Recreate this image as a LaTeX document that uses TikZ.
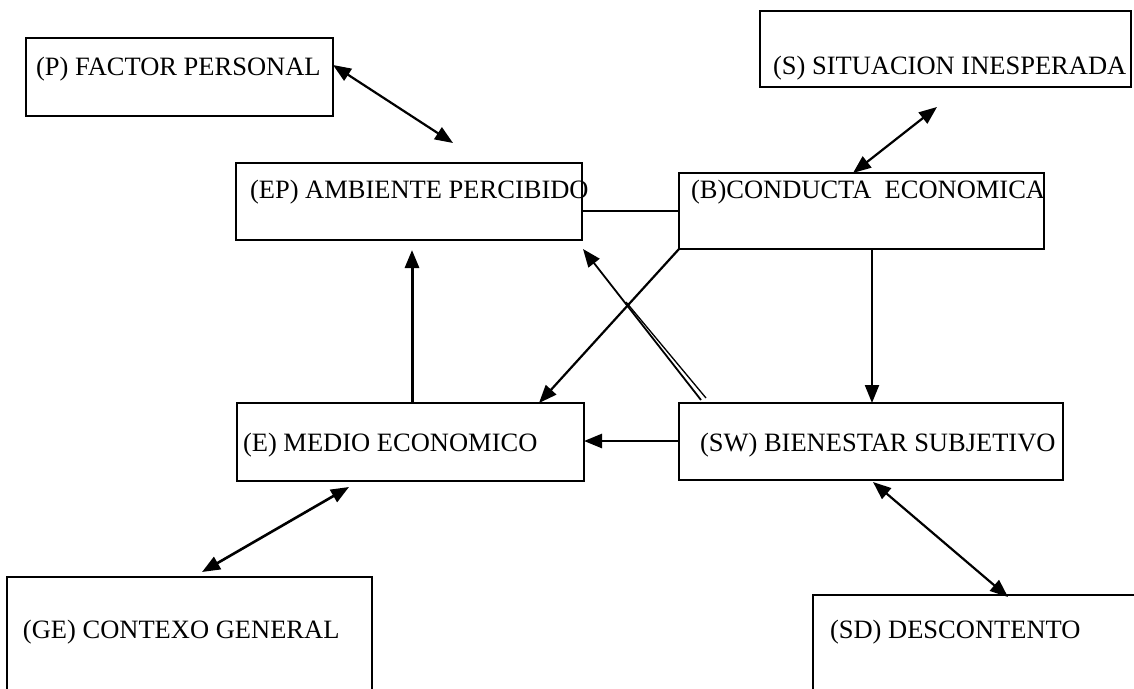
\documentclass[tikz,border=0pt]{standalone}
\usepackage{fontspec}
\setmainfont{Liberation Serif}
\usetikzlibrary{arrows.meta}
\begin{document}
\begin{tikzpicture}[x=1pt,y=-1pt,
  box/.style={draw, line width=1.4pt, rectangle, inner sep=0pt, outer sep=0pt, anchor=north west},
  lbl/.style={anchor=base west, inner sep=0pt, outer sep=0pt, font=\fontsize{26.5}{30}\selectfont},
  con/.style={line width=2.2pt, -{Triangle[length=18pt,width=14pt]}},
  bicon/.style={line width=2.2pt, {Triangle[length=18pt,width=14pt]}-{Triangle[length=18pt,width=14pt]}},
  plain/.style={line width=1.4pt}
]
\useasboundingbox (0,0) rectangle (1134,688);
\clip (0,0) rectangle (1134,688);

% boxes
\node[box, minimum width=307pt, minimum height=78pt] (P)  at (26,38)  {};
\node[box, minimum width=371pt, minimum height=76pt] (S)  at (760,11) {};
\node[box, minimum width=346pt, minimum height=77pt] (EP) at (236,163) {};
\node[box, minimum width=365pt, minimum height=76pt] (B)  at (679,173) {};
\node[box, minimum width=347pt, minimum height=78pt] (E)  at (237,403) {};
\node[box, minimum width=384pt, minimum height=77pt] (SW) at (679,403) {};
\node[box, minimum width=365pt, minimum height=130pt] (GE) at (7,577) {};
\node[box, minimum width=340pt, minimum height=120pt] (SD) at (813,595) {};

% labels
\node[lbl] (tP)  at (36,75)   {(P) FACTOR PERSONAL};
\node[lbl] (tS)  at (773,74)  {(S) SITUACION INESPERADA};
\node[lbl] (tEP) at (250,198) {(EP) AMBIENTE PERCIBIDO};
\node[lbl] (tB)  at (691,198) {(B)CONDUCTA\ \ ECONOMICA};
\node[lbl] (tE)  at (243,451) {(E) MEDIO ECONOMICO};
\node[lbl] (tSW) at (700,451) {(SW) BIENESTAR SUBJETIVO};
\node[lbl] (tGE) at (23,638)  {(GE) CONTEXO GENERAL};
\node[lbl] (tSD) at (830,638) {(SD) DESCONTENTO};

% free arrow ends
\coordinate (pEnd)  at (453,143);
\coordinate (sEnd)  at (937,107);
\coordinate (epTip) at (412,250);
\coordinate (swTip) at (583,249);
\coordinate (swA)   at (701,400);
\coordinate (swB)   at (706,398);
\coordinate (swJ)   at (626,302);
\coordinate (eEnd)  at (349,487);
\coordinate (geEnd) at (202,572);
\coordinate (swEnd) at (873,482);
\coordinate (sdEnd) at (1008,597);
\coordinate (bEnd)  at (853,173);

% connectors
\draw[bicon] (P.east |- 0,65) -- (pEnd);
\draw[bicon] (sEnd) -- (bEnd);
\draw[plain] ([yshift=-48pt]EP.north east) -- ([yshift=-38pt]B.north west);
\draw[con, line width=3pt] ([xshift=175pt]E.north west) -- (epTip);
\draw[con] (B.south west) -- ([xshift=302pt]E.north west);
\draw[con] ([xshift=193pt]B.south west) -- ([xshift=193pt]SW.north west);
\draw[con, line width=2.6pt] ([yshift=-38pt]SW.north west) -- ([yshift=-38pt]E.north east);
\draw[con, line width=1.8pt] (swA) -- (swTip);
\draw[line width=1.3pt] (swB) -- (swJ);
\draw[bicon, line width=2.6pt] (eEnd) -- (geEnd);
\draw[bicon] (swEnd) -- (sdEnd);
\end{tikzpicture}
\end{document}
